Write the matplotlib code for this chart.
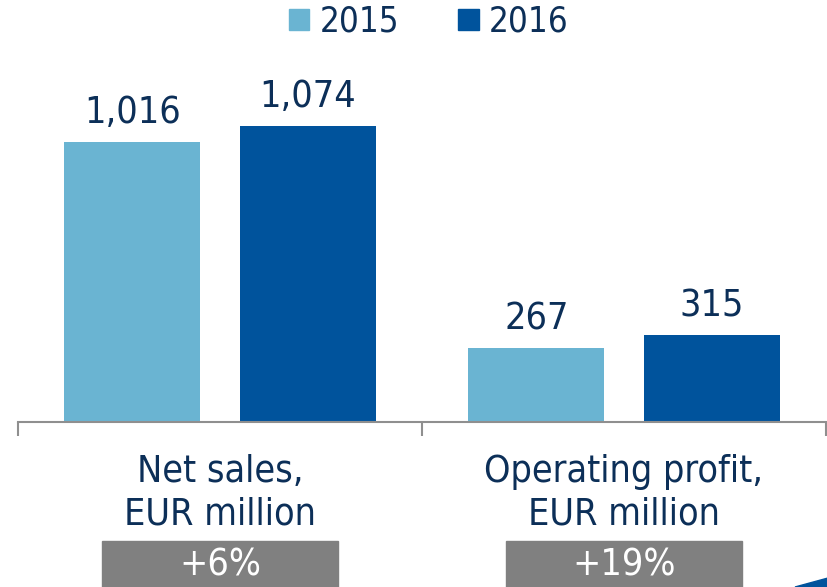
import numpy as np
import matplotlib
matplotlib.use('Agg')
from matplotlib import pyplot as plt
from matplotlib.patches import Patch, Rectangle, Polygon
from matplotlib.transforms import blended_transform_factory

plt.rcParams['font.family'] = ['DejaVu Sans']
plt.rcParams['font.stretch'] = 'condensed'

categories = ['Net sales,\nEUR million', 'Operating profit,\nEUR million']
years = ['2015', '2016']
values_2015 = [1016, 267]
values_2016 = [1074, 315]
changes = ['+6%', '+19%']

c15 = '#6ab4d2'
c16 = '#00539c'
navy = '#0c2f58'
grey_line = '#8f8f8f'

W, H = 828, 587
fig = plt.figure(figsize=(W / 100, H / 100), dpi=100)
ax = fig.add_axes([18 / W, (H - 422) / H, 808 / W, 422 / H])

x = np.arange(len(categories))
w = 0.336
off = 0.217
b1 = ax.bar(x - off, values_2015, w, color=c15)
b2 = ax.bar(x + off, values_2016, w, color=c16)
for b in (b1, b2):
    ax.bar_label(b, labels=[f'{v:,}' for v in b.datavalues], padding=8,
                 fontsize=27, color=navy)

ax.set_xlim(-0.5, 1.5)
ax.set_ylim(0, 1531)
for s in ['top', 'right', 'left']:
    ax.spines[s].set_visible(False)
ax.spines['bottom'].set_color(grey_line)
ax.spines['bottom'].set_linewidth(1.5)
ax.set_yticks([])
ax.set_xticks([-0.5, 0.5, 1.5])
ax.set_xticklabels([])
ax.tick_params(axis='x', length=10, width=1.5, color=grey_line, direction='out')

tr = blended_transform_factory(ax.transData, fig.transFigure)
for i, (cat, ch) in enumerate(zip(categories, changes)):
    fig.text(i, (H - 493) / H, cat, transform=tr, ha='center', va='center',
             fontsize=27, color=navy, linespacing=1.25)
    fig.patches.append(Rectangle((i - 0.291, 0), 0.582, 46 / H, transform=tr,
                                 color='#808080', zorder=1))
    fig.text(i, (H - 566) / H, ch, transform=tr, ha='center', va='center',
             fontsize=27, color='white', zorder=2)

fig.patches.append(Polygon([(795 / W, 0), (1, 9 / H), (1, 0)], closed=True,
                           transform=fig.transFigure, color=c16))

handles = [Patch(color=c15, label=years[0]), Patch(color=c16, label=years[1])]
fig.legend(handles=handles, loc='upper center', bbox_to_anchor=(429 / W, 1.045),
           ncol=2, frameon=False, fontsize=25, labelcolor=navy,
           handlelength=0.58, handleheight=0.58, handletextpad=0.3,
           columnspacing=1.7)

fig.savefig('out.png', dpi=100)
